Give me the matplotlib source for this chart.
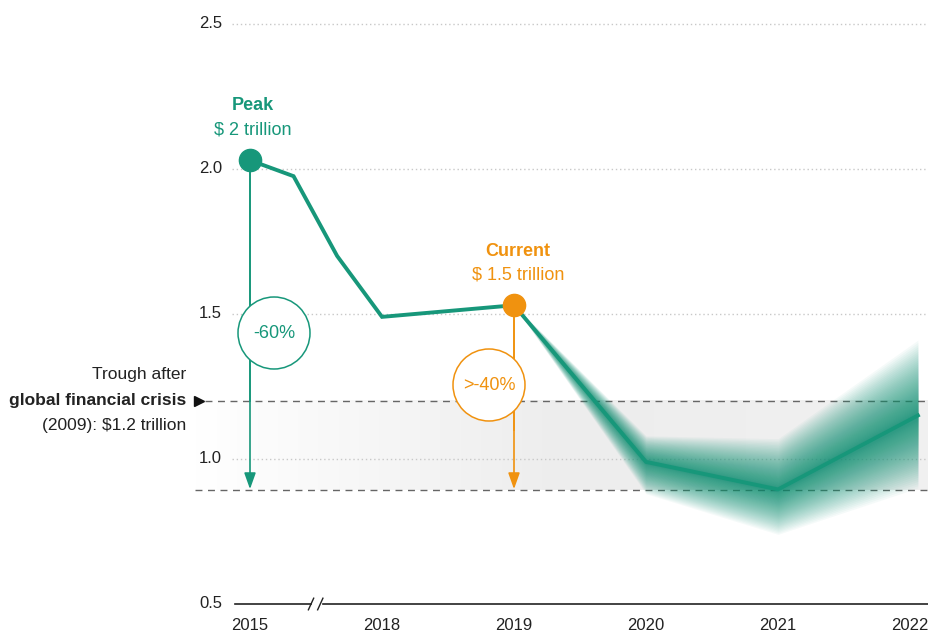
import numpy as np
import matplotlib.pyplot as plt
from matplotlib.colors import LinearSegmentedColormap
from matplotlib.patches import Circle

plt.rcParams['font.family'] = ['Liberation Sans Narrow', 'Liberation Sans', 'DejaVu Sans']

green = '#17977a'
orange = '#f0920f'

# data
year_labels = ['2015', '2018', '2019', '2020', '2021', '2022']
x_hist = [0, 0.33, 0.66, 1, 2]
y_hist = [2.03, 1.975, 1.70, 1.49, 1.53]
x_fc = [2, 3, 4, 5.06]
y_fc = [1.53, 0.99, 0.895, 1.15]
fc_upper = [1.53, 1.08, 1.07, 1.41]
fc_lower = [1.53, 0.88, 0.74, 0.90]
trough = 1.2
floor = 0.893
peak_val = 2.03
current_val = 1.53

fig = plt.figure(figsize=(9.29, 6.32), dpi=100)
W, H = 929, 632
ax = fig.add_axes([235 / W, (632 - 604) / H, 694 / W, 594 / H])
x0 = (235 - 250) / 132
x1 = (929 - 250) / 132
ax.set_xlim(x0, x1)
ax.set_ylim(0.5, 2.548)
ax.axis('off')

# gray band between trough and floor
cmap = LinearSegmentedColormap.from_list('band', ['#ffffff', '#ededed', '#f1f1f1'])
grad = np.linspace(0, 1, 256).reshape(1, -1)
ax.imshow(grad, cmap=cmap, extent=[-0.42, x1, floor, trough], aspect='auto',
          clip_on=False, zorder=0)

# dotted gridlines
for yv in [1.0, 1.5, 2.0, 2.5]:
    ax.plot([(232 - 250) / 132, x1], [yv, yv], ls=(0, (1, 2)), color='#c8c8c8',
            lw=1, clip_on=False, zorder=1)
    ax.text((222 - 250) / 132, yv, f'{yv:.1f}', ha='right', va='center',
            fontsize=12, color='#222222')
ax.text((222 - 250) / 132, 0.5, '0.5', ha='right', va='center', fontsize=12, color='#222222')

# dashed reference lines
ax.plot([(205 - 250) / 132, x1], [trough, trough], ls=(0, (5, 4)), color='#666666',
        lw=1, clip_on=False, zorder=2)
ax.plot([(195 - 250) / 132, x1], [floor, floor], ls=(0, (5, 4)), color='#666666',
        lw=1, clip_on=False, zorder=2)

# baseline with axis break
brk = (315 - 250) / 132
ax.plot([x0, brk - 0.03], [0.5, 0.5], color='#222222', lw=1.2, clip_on=False)
ax.plot([brk + 0.06, x1], [0.5, 0.5], color='#222222', lw=1.2, clip_on=False)
for dx in [-0.03, 0.04]:
    ax.plot([brk + dx - 0.02, brk + dx + 0.02], [0.48, 0.52], color='#222222',
            lw=1, clip_on=False)
for i, lab in enumerate(year_labels):
    ax.text(i, 0.425, lab, ha='center', va='center', fontsize=12, color='#222222')

# forecast fan (soft gradient built from stacked layers, denser near the line)
xf = np.array(x_fc)
yf = np.array(y_fc)
up = np.array(fc_upper)
lo = np.array(fc_lower)
for f in np.linspace(1.0, 0.15, 45) ** 1.6:
    ax.fill_between(xf, yf + (up - yf) * f, yf - (yf - lo) * f, color=green,
                    alpha=0.04, lw=0, zorder=3)

# line
ax.plot(x_hist, y_hist, color=green, lw=2.8, zorder=5, solid_joinstyle='miter')
ax.plot(x_fc, y_fc, color=green, lw=2.8, zorder=5, solid_joinstyle='miter')

# arrows
arr = dict(arrowstyle='-|>,head_length=0.7,head_width=0.25', lw=1.2,
           mutation_scale=14, shrinkA=0, shrinkB=0)
ax.annotate('', xy=(0, floor + 0.003), xytext=(0, peak_val),
            arrowprops=dict(color=green, **arr), zorder=6)
ax.annotate('', xy=(2, floor + 0.003), xytext=(2, current_val),
            arrowprops=dict(color=orange, **arr), zorder=6)

# circles with percentage
def pct_circle(cx_px, cy_px, txt, col):
    c = Circle((cx_px, H - cy_px), 36, transform=None, facecolor='white',
               edgecolor=col, lw=1.1, zorder=4)
    fig.patches.append(c)
    fig.text(cx_px / W, 1 - cy_px / H, txt, ha='center', va='center',
             fontsize=13, color=col, zorder=7)

pct_circle(274, 333, '-60%', green)
pct_circle(489, 385, '>-40%', orange)
# arrow lines over the circles
ax.plot([0, 0], [peak_val, 1.2], color=green, lw=1.2, zorder=8)
ax.plot([2, 2], [current_val, 1.1], color=orange, lw=1.2, zorder=8)

# markers
ax.plot(0, peak_val, 'o', color=green, ms=16, zorder=9)
ax.plot(2, current_val, 'o', color=orange, ms=16, zorder=9)

# labels
ax.text(0.02, 2.22, 'Peak', ha='center', va='center', fontsize=13,
        fontweight='bold', color=green)
ax.text(0.02, 2.135, '$ 2 trillion', ha='center', va='center', fontsize=13, color=green)
ax.text(2.03, 1.715, 'Current', ha='center', va='center', fontsize=13,
        fontweight='bold', color=orange)
ax.text(2.03, 1.635, '$ 1.5 trillion', ha='center', va='center', fontsize=13, color=orange)

# trough annotation
tx = (186 - 250) / 132
ax.text(tx, 1.29, 'Trough after', ha='right', va='center', fontsize=12.5, color='#222222')
ax.text(tx, 1.2, 'global financial crisis', ha='right', va='center', fontsize=12.5,
        fontweight='bold', color='#222222')
ax.text(tx, 1.115, '(2009): $1.2 trillion', ha='right', va='center', fontsize=12.5,
        color='#222222')
ax.plot((199 - 250) / 132, trough, marker='>', color='#111111', ms=7, clip_on=False)

fig.savefig('out.png', dpi=100)
